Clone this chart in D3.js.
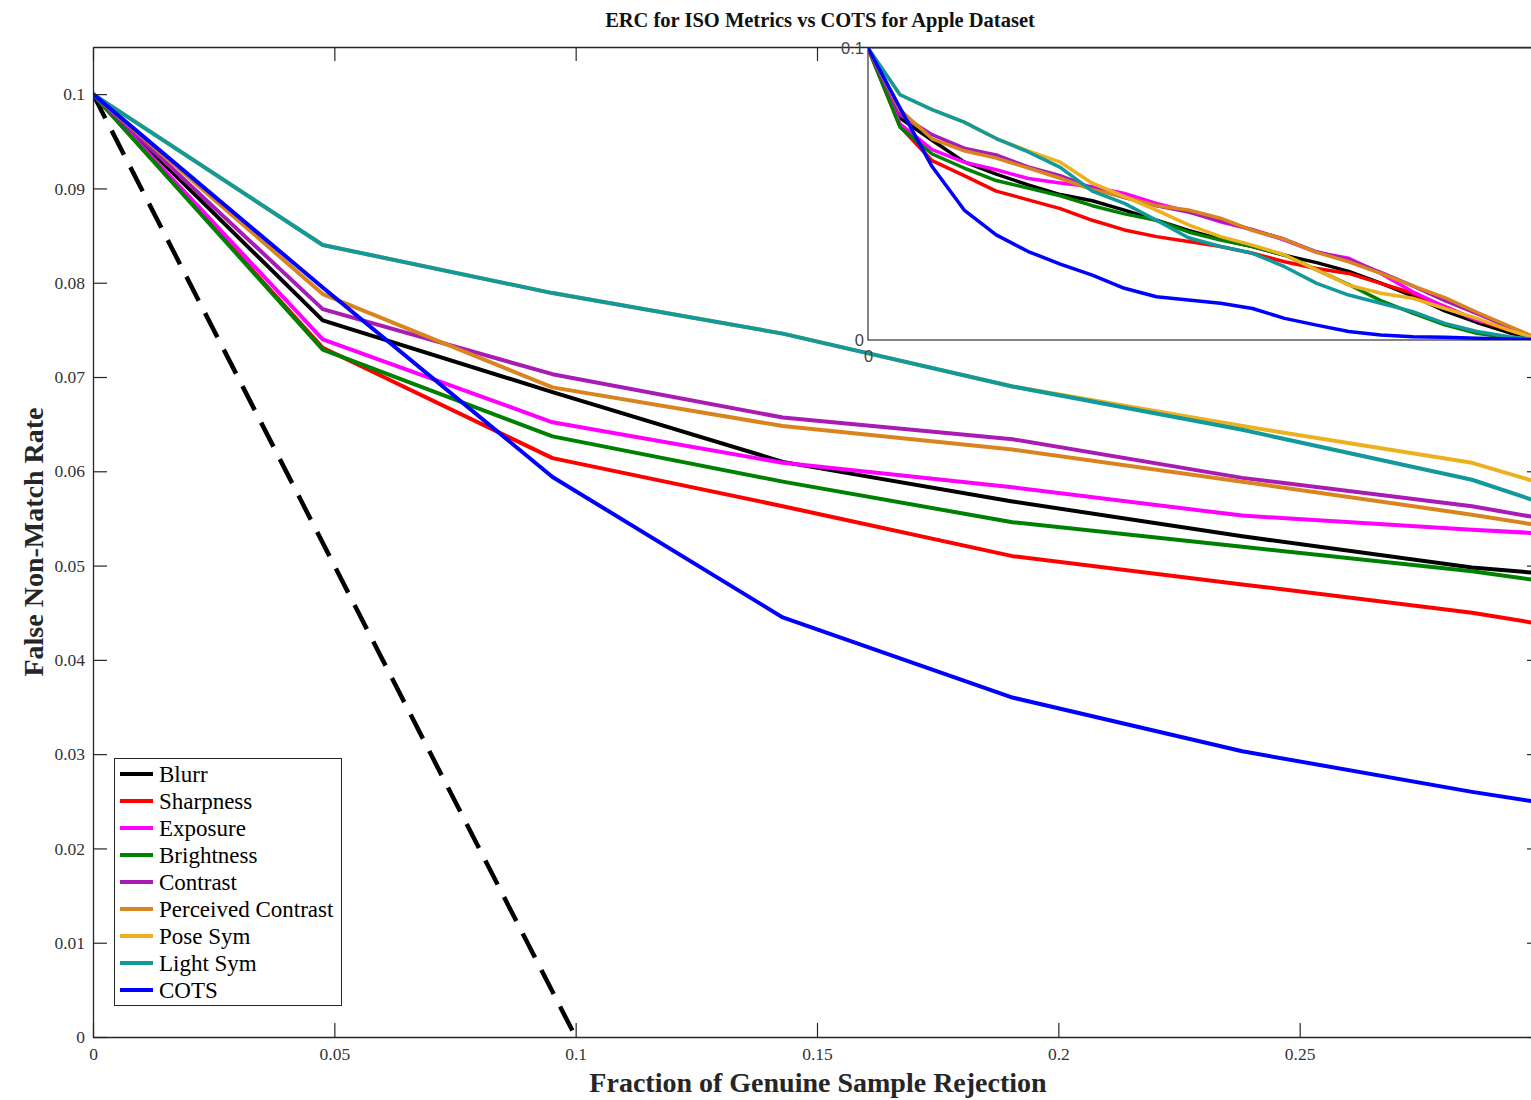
<!DOCTYPE html>
<html>
<head>
<meta charset="utf-8">
<script src="https://cdn.jsdelivr.net/npm/d3@7"></script>
<style>
  html, body { margin: 0; padding: 0; background: #fff; }
  svg { display: block; font-family: "Liberation Serif", "Times New Roman", serif; }
</style>
</head>
<body>
<svg id="chart" width="1531" height="1100"></svg>
<script>
// ---------------- DATA ----------------
const xValues = [0, 0.0476, 0.0952, 0.1429, 0.1905, 0.2381, 0.2857, 0.3333, 0.3810, 0.4286, 0.4762,
                 0.5238, 0.5714, 0.6190, 0.6667, 0.7143, 0.7619, 0.8095, 0.8571, 0.9048, 0.9524, 1.0];

const seriesNames = ["Blurr", "Sharpness", "Exposure", "Brightness", "Contrast",
                     "Perceived Contrast", "Pose Sym", "Light Sym", "COTS"];

const blurr      = [0.1, 0.0760, 0.0684, 0.0610, 0.0568, 0.0531, 0.0498, 0.0477, 0.0445, 0.0410, 0.0375, 0.0345, 0.0320, 0.0290, 0.0265, 0.0235, 0.0195, 0.0150, 0.0100, 0.0060, 0.0025, 0];
const sharpness  = [0.1, 0.0731, 0.0614, 0.0563, 0.0510, 0.0480, 0.0450, 0.0410, 0.0377, 0.0354, 0.0337, 0.0320, 0.0297, 0.0268, 0.0245, 0.0228, 0.0194, 0.0160, 0.0114, 0.0068, 0.0034, 0];
const exposure   = [0.1, 0.0740, 0.0652, 0.0609, 0.0583, 0.0553, 0.0538, 0.0525, 0.0502, 0.0468, 0.0440, 0.0405, 0.0377, 0.0342, 0.0300, 0.0280, 0.0228, 0.0165, 0.0114, 0.0068, 0.0040, 0];
const brightness = [0.1, 0.0729, 0.0637, 0.0589, 0.0546, 0.0520, 0.0494, 0.0460, 0.0432, 0.0410, 0.0370, 0.0342, 0.0320, 0.0291, 0.0240, 0.0190, 0.0135, 0.0092, 0.0052, 0.0023, 0.0008, 0];
const contrast   = [0.1, 0.0772, 0.0703, 0.0657, 0.0634, 0.0593, 0.0563, 0.0520, 0.0488, 0.0460, 0.0438, 0.0408, 0.0378, 0.0345, 0.0302, 0.0275, 0.0232, 0.0185, 0.0135, 0.0090, 0.0045, 0];
const perceived  = [0.1, 0.0788, 0.0689, 0.0648, 0.0623, 0.0589, 0.0554, 0.0515, 0.0490, 0.0460, 0.0445, 0.0417, 0.0375, 0.0345, 0.0300, 0.0268, 0.0228, 0.0185, 0.0145, 0.0095, 0.0048, 0];
const poseSym    = [0.1, 0.0840, 0.0789, 0.0746, 0.0690, 0.0648, 0.0609, 0.0537, 0.0491, 0.0445, 0.0394, 0.0354, 0.0325, 0.0291, 0.0240, 0.0188, 0.0160, 0.0143, 0.0108, 0.0074, 0.0034, 0];
const lightSym   = [0.1, 0.0840, 0.0789, 0.0746, 0.0690, 0.0644, 0.0591, 0.0510, 0.0468, 0.0410, 0.0350, 0.0320, 0.0297, 0.0251, 0.0194, 0.0154, 0.0126, 0.0097, 0.0057, 0.0029, 0.0011, 0];
const cots       = [0.1, 0.0795, 0.0594, 0.0445, 0.0360, 0.0303, 0.0260, 0.0222, 0.0177, 0.0148, 0.0137, 0.0126, 0.0108, 0.0074, 0.0051, 0.0029, 0.0017, 0.0011, 0.0009, 0.0006, 0.0003, 0];

const seriesValues = [blurr, sharpness, exposure, brightness, contrast, perceived, poseSym, lightSym, cots];
const seriesColors = ["#000000", "#ff0000", "#ff00ff", "#008000", "#a81cb4",
                      "#d9841f", "#edb120", "#12999c", "#0000ff"];

// ideal (dashed) reference line
const idealX = [0, 0.1];
const idealY = [0.1, 0];

const xTickValues = [0, 0.05, 0.1, 0.15, 0.2, 0.25];
const xTickLabels = ["0", "0.05", "0.1", "0.15", "0.2", "0.25"];
const yTickValues = [0, 0.01, 0.02, 0.03, 0.04, 0.05, 0.06, 0.07, 0.08, 0.09, 0.1];
const yTickLabels = ["0", "0.01", "0.02", "0.03", "0.04", "0.05", "0.06", "0.07", "0.08", "0.09", "0.1"];

const titleText = "ERC for ISO Metrics vs COTS for Apple Dataset";
const xLabelText = "Fraction of Genuine Sample Rejection";
const yLabelText = "False Non-Match Rate";

// ---------------- LAYOUT ----------------
const svg = d3.select("#chart");
const P = { left: 93, right: 1541, top: 47, bottom: 1037 };
const I = { left: 868, right: 1541, top: 48, bottom: 340 };

const x = d3.scaleLinear().domain([0, 0.3]).range([P.left, P.right]);
const y = d3.scaleLinear().domain([0, 0.105]).range([P.bottom, P.top]);
const xi = d3.scaleLinear().domain([0, 1]).range([I.left, I.right]);
const yi = d3.scaleLinear().domain([0, 0.1]).range([I.bottom, I.top]);

const defs = svg.append("defs");
defs.append("clipPath").attr("id", "clipMain").append("rect")
  .attr("x", P.left).attr("y", P.top).attr("width", P.right - P.left).attr("height", P.bottom - P.top);
defs.append("clipPath").attr("id", "clipInset").append("rect")
  .attr("x", I.left).attr("y", I.top).attr("width", I.right - I.left).attr("height", I.bottom - I.top);

// ---------------- MAIN LINES ----------------
const gMain = svg.append("g").attr("clip-path", "url(#clipMain)");
const lineMain = d3.line().x((d, i) => x(xValues[i])).y(d => y(d));

gMain.append("path")
  .datum(idealY)
  .attr("d", d3.line().x((d, i) => x(idealX[i])).y(d => y(d)))
  .attr("fill", "none").attr("stroke", "#000").attr("stroke-width", 4.5)
  .attr("stroke-dasharray", "27,14");

seriesValues.forEach((vals, k) => {
  gMain.append("path").datum(vals)
    .attr("d", lineMain)
    .attr("fill", "none")
    .attr("stroke", seriesColors[k])
    .attr("stroke-width", 4)
    .attr("stroke-linejoin", "round");
});

// ---------------- AXES ----------------
const axisStyle = g => {
  g.selectAll(".domain").attr("stroke", "#262626").attr("stroke-width", 1.3);
  g.selectAll(".tick line").attr("stroke", "#262626").attr("stroke-width", 1.2);
  g.selectAll(".tick text").attr("fill", "#333").style("font-size", "17.5px")
    .style("font-family", "'Liberation Serif', serif");
};

svg.append("g").attr("transform", `translate(0,${P.bottom})`)
  .call(d3.axisBottom(x).tickValues(xTickValues).tickSizeInner(-14).tickSizeOuter(0)
        .tickPadding(11).tickFormat((d, i) => xTickLabels[i]))
  .call(axisStyle);

svg.append("g").attr("transform", `translate(0,${P.top})`)
  .call(d3.axisTop(x).tickValues(xTickValues).tickSizeInner(-14).tickSizeOuter(0).tickFormat(""))
  .call(axisStyle);

svg.append("g").attr("transform", `translate(${P.left},0)`)
  .call(d3.axisLeft(y).tickValues(yTickValues).tickSizeInner(-14).tickSizeOuter(0)
        .tickPadding(8).tickFormat((d, i) => yTickLabels[i]))
  .call(axisStyle);

svg.append("g").attr("transform", `translate(${P.right},0)`)
  .call(d3.axisRight(y).tickValues(yTickValues).tickSizeInner(-14).tickSizeOuter(0).tickFormat(""))
  .call(axisStyle);

// ---------------- TITLES ----------------
svg.append("text").attr("x", 820).attr("y", 27).attr("text-anchor", "middle")
  .style("font-size", "20.5px").style("font-weight", "bold").attr("fill", "#111")
  .text(titleText);

svg.append("text").attr("x", 818).attr("y", 1092).attr("text-anchor", "middle")
  .style("font-size", "28px").style("font-weight", "bold").attr("fill", "#262626")
  .text(xLabelText);

svg.append("text").attr("transform", "translate(43,542) rotate(-90)").attr("text-anchor", "middle")
  .style("font-size", "28px").style("font-weight", "bold").attr("fill", "#262626")
  .text(yLabelText);

// ---------------- LEGEND ----------------
const leg = svg.append("g");
leg.append("rect").attr("x", 114.5).attr("y", 758.5).attr("width", 227).attr("height", 247)
  .attr("fill", "#fff").attr("stroke", "#262626").attr("stroke-width", 1);
seriesNames.forEach((name, k) => {
  const cy = 774 + k * 27;
  leg.append("line").attr("x1", 120).attr("x2", 153).attr("y1", cy).attr("y2", cy)
    .attr("stroke", seriesColors[k]).attr("stroke-width", 4);
  leg.append("text").attr("x", 159).attr("y", cy + 7.5)
    .style("font-size", "23px").attr("fill", "#000").text(name);
});

// ---------------- INSET ----------------
const gi = svg.append("g");
gi.append("rect").attr("x", I.left).attr("y", I.top).attr("width", I.right - I.left).attr("height", I.bottom - I.top)
  .attr("fill", "#fff").attr("stroke", "#333").attr("stroke-width", 1.2);

const gInLines = gi.append("g").attr("clip-path", "url(#clipInset)");
const lineInset = d3.line().x((d, i) => xi(xValues[i])).y(d => yi(d));
seriesValues.forEach((vals, k) => {
  gInLines.append("path").datum(vals)
    .attr("d", lineInset)
    .attr("fill", "none")
    .attr("stroke", seriesColors[k])
    .attr("stroke-width", 3.5)
    .attr("stroke-linejoin", "round");
});

const insetYAxis = gi.append("g").attr("transform", `translate(${I.left},0)`)
  .call(d3.axisLeft(yi).tickValues([0, 0.1]).tickSize(0).tickPadding(4)
        .tickFormat(d => d === 0 ? "0" : "0.1"));
insetYAxis.select(".domain").remove();
insetYAxis.selectAll("text").attr("fill", "#444").style("font-size", "16.5px");

const insetXAxis = gi.append("g").attr("transform", `translate(0,${I.bottom})`)
  .call(d3.axisBottom(xi).tickValues([0]).tickSize(0).tickPadding(10).tickFormat(() => "0"));
insetXAxis.select(".domain").remove();
insetXAxis.selectAll("text").attr("fill", "#444").style("font-size", "16.5px");
</script>
</body>
</html>
